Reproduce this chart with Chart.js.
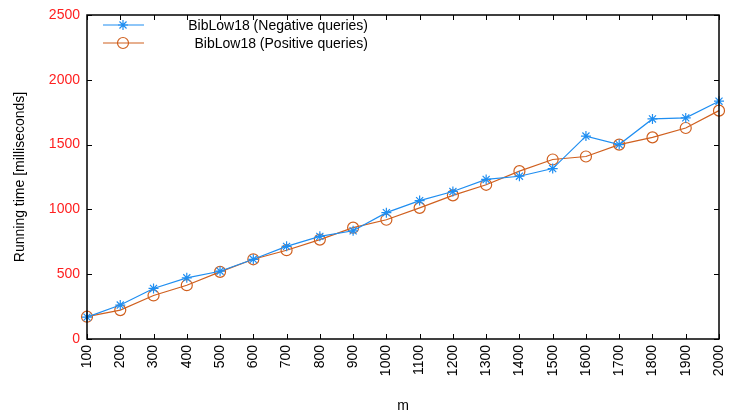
<!DOCTYPE html>
<html><head><meta charset="utf-8">
<script src="https://cdn.jsdelivr.net/npm/chart.js@4"></script>
<style>html,body{margin:0;padding:0;background:#fff}#wrap{width:734px;height:414px}</style>
</head><body><div id="wrap"><canvas id="c" width="734" height="414"></canvas></div>
<script>
const categories = ['100','200','300','400','500','600','700','800','900','1000','1100','1200','1300','1400','1500','1600','1700','1800','1900','2000'];
const negativeQueries = [169,262,390,472,523,615,715,792,835,975,1068,1138,1231,1256,1315,1566,1500,1698,1706,1835];
const positiveQueries = [172,223,336,415,518,615,685,767,859,920,1012,1108,1190,1295,1385,1408,1500,1556,1628,1762];
const yTicks = [0,500,1000,1500,2000,2500];
const seriesNames = ['BibLow18 (Negative queries)','BibLow18 (Positive queries)'];

const FONT = 'Liberation Sans, Arial, sans-serif';
const BLUE = '#1f8ef1';
const ORANGE = '#d0601f';

const framePlugin = {
  id: 'frame',
  afterDatasetsDraw(chart) {
    const {ctx, chartArea: a, scales} = chart;
    ctx.save();
    ctx.strokeStyle = '#000';
    ctx.lineWidth = 1;
    const L = 5;
    ctx.beginPath();
    scales.x.ticks.forEach((t, i) => {
      const x = Math.round(scales.x.getPixelForTick(i)) + 0.5;
      ctx.moveTo(x, a.bottom); ctx.lineTo(x, a.bottom - L);
      ctx.moveTo(x, a.top); ctx.lineTo(x, a.top + L);
    });
    scales.y.ticks.forEach((t, i) => {
      const y = Math.round(scales.y.getPixelForTick(i)) + 0.5;
      ctx.moveTo(a.left, y); ctx.lineTo(a.left + L, y);
      ctx.moveTo(a.right, y); ctx.lineTo(a.right - L, y);
    });
    ctx.stroke();
    ctx.lineWidth = 1.5;
    ctx.strokeRect(a.left, a.top, a.right - a.left, a.bottom - a.top);
    // legend
    ctx.font = '14px ' + FONT;
    ctx.textAlign = 'right';
    ctx.textBaseline = 'middle';
    chart.data.datasets.forEach((ds, i) => {
      const y = a.top + 10 + i * 18;
      ctx.strokeStyle = ds.borderColor;
      ctx.fillStyle = ds.pointBackgroundColor;
      ctx.lineWidth = 1.2;
      ctx.beginPath();
      ctx.moveTo(a.left + 16, y); ctx.lineTo(a.left + 57, y);
      ctx.stroke();
      Chart.helpers.drawPoint(ctx, {pointStyle: ds.pointStyle, radius: ds.pointRadius, borderWidth: 1.2}, a.left + 36, y);
      ctx.fillStyle = '#000';
      ctx.fillText(ds.label, 368, y + 1);
    });
    ctx.restore();
  }
};

new Chart(document.getElementById('c'), {
  type: 'line',
  data: {
    labels: categories,
    datasets: [
      {label: seriesNames[0], data: negativeQueries, borderColor: BLUE, backgroundColor: BLUE, pointBackgroundColor: BLUE,
       borderWidth: 1.2, pointStyle: 'star', pointRadius: 5, pointBorderWidth: 1.2, tension: 0, fill: false},
      {label: seriesNames[1], data: positiveQueries, borderColor: ORANGE, backgroundColor: 'rgba(0,0,0,0)', pointBackgroundColor: 'rgba(0,0,0,0)',
       borderWidth: 1.2, pointStyle: 'circle', pointRadius: 5.5, pointBorderWidth: 1.2, tension: 0, fill: false}
    ]
  },
  options: {
    responsive: false,
    animation: false,
    layout: {padding: {left: 0, right: 15, top: 15, bottom: 0}},
    plugins: {legend: {display: false}, tooltip: {enabled: false}},
    scales: {
      x: {
        offset: false,
        grid: {display: false, drawTicks: false},
        border: {display: false},
        ticks: {color: '#000', minRotation: 90, maxRotation: 90, autoSkip: false, padding: 6,
                font: {family: FONT, size: 14}},
        title: {display: true, text: 'm', color: '#000', font: {family: FONT, size: 14}, padding: {top: 12, bottom: -1}},
        afterFit(s) { s.height = 75; s.paddingLeft = 0; s.paddingRight = 0; }
      },
      y: {
        min: 0, max: 2500,
        afterBuildTicks(s) { s.ticks = yTicks.map(v => ({value: v})); },
        grid: {display: false, drawTicks: false},
        border: {display: false},
        ticks: {color: '#ff2020', padding: 7, font: {family: FONT, size: 14}, callback: v => String(v)},
        title: {display: true, text: 'Running time [milliseconds]', color: '#000', font: {family: FONT, size: 14}, padding: {top: 12, bottom: 10}},
        afterFit(s) { s.width = 87; s.paddingTop = 0; s.paddingBottom = 0; }
      }
    }
  },
  plugins: [framePlugin]
});
</script></body></html>
